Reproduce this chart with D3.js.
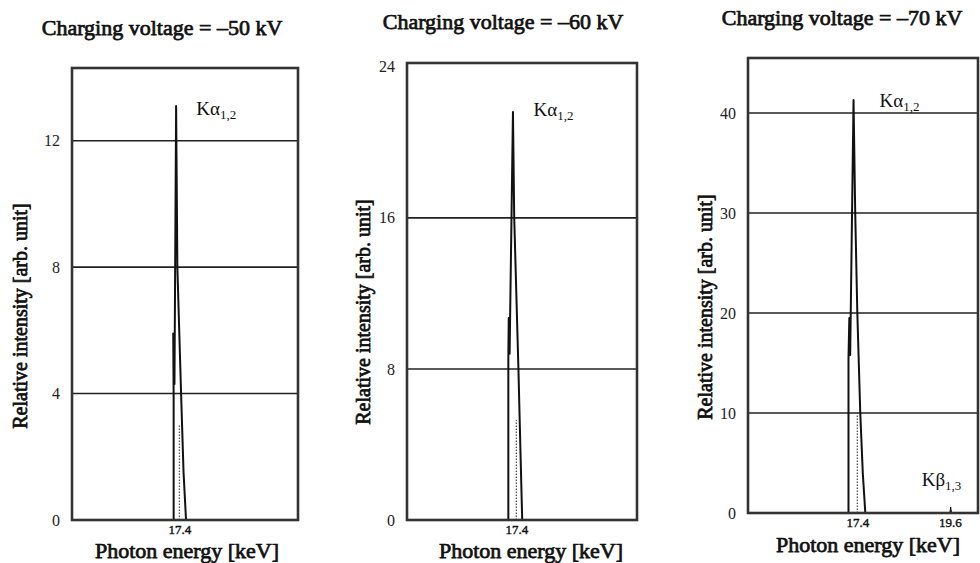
<!DOCTYPE html>
<html>
<head>
<meta charset="utf-8">
<script src="https://cdn.jsdelivr.net/npm/d3@7/dist/d3.min.js"></script>
<style>
  body { margin: 0; background: #fff; }
</style>
</head>
<body>
<div class="chart"></div>
<script>
// values
var voltages = ["50", "60", "70"];
var yMax = [14.3, 24.2, 45.5];
var yTicks = [[0, 4, 8, 12], [0, 8, 16, 24], [0, 10, 20, 30, 40]];
var yGrid = [[4, 8, 12], [8, 16], [10, 20, 30, 40]];
var xTicks = [[17.4], [17.4], [17.4, 19.6]];
var energyRange = [14.8, 20.27];

var energy50 = [17.26, 17.26, 17.25, 17.28, 17.32, 17.35, 17.44, 17.50, 17.56];
var intensity50 = [0, 3.9, 5.9, 4.3, 13.1, 8.0, 4.0, 1.5, 0];
var energy60 = [17.21, 17.21, 17.22, 17.24, 17.32, 17.35, 17.45, 17.50, 17.54];
var intensity60 = [0, 8.6, 10.7, 8.8, 21.6, 16.0, 8.0, 3.5, 0];
var energy70 = [17.19, 17.19, 17.21, 17.23, 17.31, 17.35, 17.40, 17.47, 17.53, 17.59];
var intensity70 = [0, 15.5, 19.5, 15.8, 41.3, 30.0, 20.0, 10.0, 4.0, 0];

// dotted line under each peak
var markerEnergy = [17.40, 17.40, 17.40];
var markerTop = [3.0, 5.3, 10.0];

// tiny K-beta bump (only at -70 kV)
var kbEnergy = [19.60, 19.62, 19.64];
var kbIntensity = [0, 0.6, 0];

var spectra = [
  d3.zip(energy50, intensity50),
  d3.zip(energy60, intensity60),
  d3.zip(energy70, intensity70)
];

var serif = "'Liberation Serif', 'Times New Roman', serif";

// layout of the three frames
var frames = [
  {left: 72,  right: 298, top: 68, bottom: 520, titleX: 162, titleY: 35, ytX: 20,  ytY: 316, xtX: 187, xtY: 558},
  {left: 407, right: 637, top: 63, bottom: 520, titleX: 503, titleY: 29, ytX: 363, ytY: 312, xtX: 531, xtY: 558},
  {left: 748, right: 978, top: 58, bottom: 513, titleX: 842, titleY: 25, ytX: 705, ytY: 307, xtX: 868, xtY: 552}
];

var svg = d3.select(".chart")
  .append("svg")
  .attr("width", 980)
  .attr("height", 563)
  .attr("font-family", serif);

// bold serif face is missing, so thicken the regular one with a stroke
function heavy(sel, size, w) {
  sel.style("font-family", serif)
    .style("font-size", size + "px")
    .attr("fill", "#111")
    .attr("stroke", "#111")
    .attr("stroke-width", w);
  return sel;
}

frames.forEach(function(f, i) {
  var x = d3.scaleLinear().domain(energyRange).range([f.left, f.right]);
  var y = d3.scaleLinear().domain([0, yMax[i]]).range([f.bottom, f.top]);

  // title
  heavy(svg.append("text"), 22, 0.75)
    .attr("x", f.titleX)
    .attr("y", f.titleY)
    .attr("text-anchor", "middle")
    .text("Charging voltage = \u2013" + voltages[i] + " kV");

  // horizontal grid lines
  svg.append("g")
    .selectAll("line")
    .data(yGrid[i])
    .enter()
    .append("line")
    .attr("x1", f.left)
    .attr("x2", f.right)
    .attr("y1", function(d) { return y(d); })
    .attr("y2", function(d) { return y(d); })
    .attr("stroke", "#222")
    .attr("stroke-width", 1.6);

  // y tick labels
  var yAxis = svg.append("g")
    .attr("transform", "translate(" + f.left + ",0)")
    .call(d3.axisLeft(y).tickValues(yTicks[i]).tickSize(0).tickPadding(12).tickFormat(d3.format("d")));
  yAxis.select(".domain").remove();
  yAxis.selectAll("text")
    .style("font-family", serif)
    .style("font-size", "16px")
    .attr("fill", "#222");

  // x tick labels
  var xAxis = svg.append("g")
    .attr("transform", "translate(0," + f.bottom + ")")
    .call(d3.axisBottom(x).tickValues(xTicks[i]).tickSize(0).tickPadding(5).tickFormat(d3.format(".1f")));
  xAxis.select(".domain").remove();
  heavy(xAxis.selectAll("text"), 13, 0.4);

  // spectrum
  var line = d3.line()
    .x(function(d) { return x(d[0]); })
    .y(function(d) { return y(d[1]); });

  svg.append("path")
    .datum(spectra[i])
    .attr("d", line)
    .attr("fill", "none")
    .attr("stroke", "#111")
    .attr("stroke-width", 2)
    .attr("stroke-linejoin", "round");

  svg.append("line")
    .attr("x1", x(markerEnergy[i]))
    .attr("x2", x(markerEnergy[i]))
    .attr("y1", y(0))
    .attr("y2", y(markerTop[i]))
    .attr("stroke", "#555")
    .attr("stroke-width", 1.3)
    .attr("stroke-dasharray", "1.5,1.5");

  if (i == 2) {
    svg.append("path")
      .datum(d3.zip(kbEnergy, kbIntensity))
      .attr("d", line)
      .attr("fill", "#111")
      .attr("stroke", "#111")
      .attr("stroke-width", 1);
  }

  // frame
  svg.append("rect")
    .attr("x", f.left)
    .attr("y", f.top)
    .attr("width", f.right - f.left)
    .attr("height", f.bottom - f.top)
    .attr("fill", "none")
    .attr("stroke", "#333")
    .attr("stroke-width", 2.6);

  // peak labels
  var ka = svg.append("text")
    .attr("x", x(i == 2 ? 17.93 : 17.81))
    .attr("y", y(i == 0 ? 12.8 : i == 1 ? 21.4 : 40.6))
    .style("font-family", serif)
    .style("font-size", "19px")
    .attr("fill", "#111");
  ka.append("tspan").text("K\u03b1");
  ka.append("tspan").attr("dy", 4).style("font-size", "13px").text("1,2");

  if (i == 2) {
    var kb = svg.append("text")
      .attr("x", x(18.93))
      .attr("y", y(2.7))
      .style("font-family", serif)
      .style("font-size", "19px")
      .attr("fill", "#111");
    kb.append("tspan").text("K\u03b2");
    kb.append("tspan").attr("dy", 4).style("font-size", "13px").text("1,3");
  }

  // axis titles
  heavy(svg.append("text"), 20, 0.75)
    .attr("transform", "translate(" + f.ytX + "," + f.ytY + ") rotate(-90)")
    .attr("text-anchor", "middle")
    .attr("dy", "0.35em")
    .text("Relative intensity [arb. unit]");

  heavy(svg.append("text"), 22, 0.75)
    .attr("x", f.xtX)
    .attr("y", f.xtY)
    .attr("text-anchor", "middle")
    .text("Photon energy [keV]");
});
</script>
</body>
</html>
